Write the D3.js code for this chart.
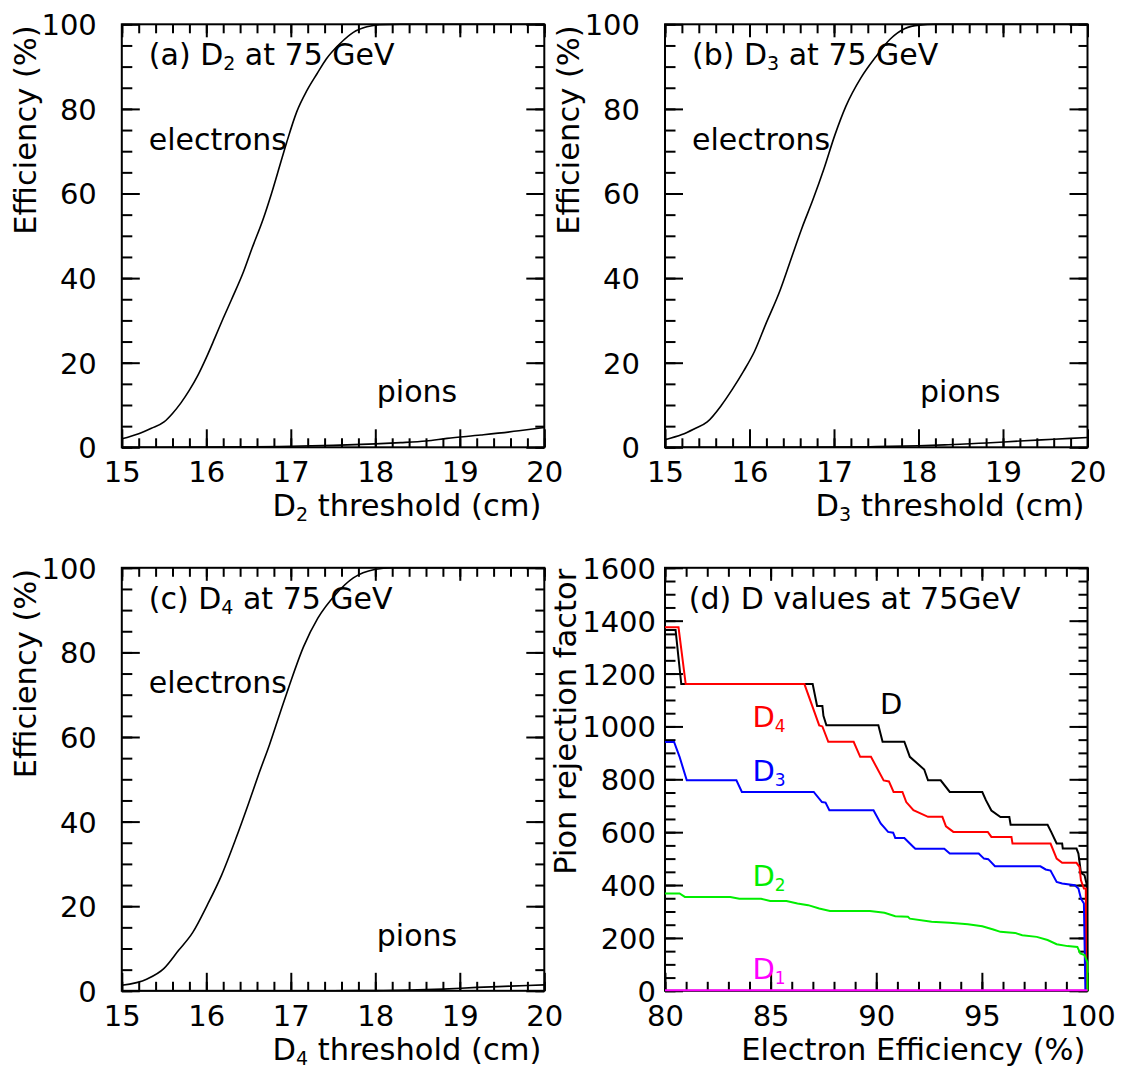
<!DOCTYPE html>
<html>
<head>
<meta charset="utf-8">
<script src="https://cdn.jsdelivr.net/npm/d3@7"></script>
<style>
  body { margin: 0; background: #fff; }
  svg { display: block; }
  text { font-family: "DejaVu Sans", sans-serif; fill: #000; }
</style>
</head>
<body>
<svg id="chart" width="1121" height="1068"></svg>
<script>
// ---- efficiency vs threshold (panels a-c): [threshold cm, efficiency %] ----
const electronsD2 = [[15,2.0],[15.2,3.2],[15.35,4.5],[15.5,6.0],[15.6,8.0],[15.7,10.5],[15.8,13.5],[15.9,17.0],
  [16.0,21.2],[16.1,25.8],[16.2,30.5],[16.3,35.0],[16.44,41.5],[16.54,47.0],[16.67,53.8],[16.77,59.9],
  [16.87,66.6],[16.95,72.0],[17.07,79.3],[17.19,84.3],[17.31,88.3],[17.42,91.8],[17.58,95.4],[17.74,98.1],
  [17.9,99.4],[18.05,99.9],[18.3,100],[20,100]];
const pionsD2 = [[15,0],[16,0.05],[16.5,0.1],[17,0.25],[17.5,0.45],[18,0.8],[18.3,1.1],[18.6,1.5],[18.85,2.1],
  [19.25,2.9],[19.7,3.9],[20,4.7]];

const electronsD3 = [[15,1.8],[15.2,3.0],[15.35,4.4],[15.5,6.0],[15.67,10.0],[15.8,13.8],[15.93,18.0],[16.06,22.7],
  [16.19,29.0],[16.36,37.0],[16.5,45.0],[16.62,51.8],[16.75,58.5],[16.88,65.8],[17.01,73.8],[17.14,80.6],
  [17.32,87.4],[17.49,92.2],[17.66,96.4],[17.84,99.0],[18.01,99.8],[18.2,100],[20,100]];
const pionsD3 = [[15,0],[17,0.05],[17.5,0.15],[18,0.35],[18.35,0.6],[18.8,1.0],[19.2,1.5],[19.6,1.9],[20,2.3]];

const electronsD4 = [[15,1.3],[15.3,2.8],[15.5,5.3],[15.67,9.5],[15.84,13.8],[16.01,20.2],[16.18,27.3],[16.35,36.0],
  [16.5,44.3],[16.62,51.2],[16.75,58.3],[16.87,65.5],[16.98,72.0],[17.15,81.3],[17.32,88.1],[17.53,93.7],
  [17.74,97.6],[17.99,99.6],[18.2,100],[20,100]];
const pionsD4 = [[15,0],[17.5,0.02],[18,0.05],[18.4,0.15],[18.8,0.4],[19.2,0.8],[19.6,1.1],[20,1.4]];

// ---- pion rejection vs electron efficiency (panel d): [efficiency %, rejection] ----
const rejectionD = [[80,1365],[80.5,1365],[80.77,1160],[86.99,1160],[87.2,1077],[87.45,1077],[87.5,1040],[87.64,1004],
  [90.1,1004],[90.3,942],[91.33,942],[91.59,885],[92.27,837],[92.45,796],[93.05,796],[93.48,752],[95.02,752],
  [95.19,721],[95.45,682],[95.88,657],[96.3,657],[96.36,628],[98.11,628],[98.28,601],[98.54,557],[98.8,557],
  [98.83,538],[99.48,538],[99.57,519],[99.69,446],[99.86,437],[99.97,400],[100,0]];
const rejectionD4 = [[80,1375],[80.64,1375],[80.98,1160],[86.6,1160],[87.3,1004],[87.45,1000],[87.73,942],[88.93,942],
  [89.24,885],[89.75,885],[90.35,796],[90.6,792],[90.82,752],[91.24,752],[91.42,714],[91.76,683],[92.45,658],
  [93.13,658],[93.3,622],[93.65,601],[95.28,601],[95.45,582],[96.4,582],[96.45,557],[98.25,557],[98.54,500],
  [98.8,484],[99.48,484],[99.62,469],[99.69,418],[99.83,387],[99.92,387],[99.93,0]];
const rejectionD3 = [[80,941],[80.43,941],[80.69,885],[81.03,796],[83.38,796],[83.64,752],[87.04,752],[87.43,714],
  [87.6,712],[87.78,683],[89.87,683],[90.21,633],[90.56,601],[90.8,598],[90.9,578],[91.33,578],[91.76,544],
  [91.85,537],[93.22,537],[93.48,519],[94.85,519],[95.1,500],[95.3,498],[95.62,471],[97.77,471],[98.02,459],
  [98.25,455],[98.54,412],[98.8,406],[99.4,399],[99.57,387],[99.69,349],[99.83,330],[99.9,0]];
const rejectionD2 = [[80,368],[80.69,368],[80.94,355],[83.09,355],[83.52,348],[84.55,348],[84.98,340],[85.75,340],
  [86.27,330],[86.78,324],[87.3,311],[87.81,302],[89.7,302],[90.39,295],[90.9,282],[91.5,280],[91.59,273],
  [92.62,261],[93.48,257],[94.34,252],[95.02,244],[95.54,232],[95.88,223],[96.57,219],[96.91,210],[97.6,204],
  [98.11,192],[98.54,176],[99.06,169],[99.52,166],[99.66,141],[99.86,135],[100,106],[100,0]];
const rejectionD1 = [[80,2],[100,2]];

// ---- axis ticks ----
const thresholdTicks = [15, 16, 17, 18, 19, 20];
const efficiencyTicks = [0, 20, 40, 60, 80, 100];
const electronEffTicks = [80, 85, 90, 95, 100];
const rejectionTicks = [0, 200, 400, 600, 800, 1000, 1200, 1400, 1600];

// ---- layout ----
const W = 422.5, H = 423;
const svg = d3.select("#chart");
svg.append("rect").attr("width", 1121).attr("height", 1068).attr("fill", "#fff");

const thresholdPanels = [
  { tag: "a", sub: "2", left: 121.8, top: 24.3, electrons: electronsD2, pions: pionsD2 },
  { tag: "b", sub: "3", left: 665,   top: 24.3, electrons: electronsD3, pions: pionsD3 },
  { tag: "c", sub: "4", left: 121.8, top: 567.8, electrons: electronsD4, pions: pionsD4 }
];

// text with subscripts: parts is a list of [text, isSubscript]
function subText(sel, parts, subSize) {
  parts.forEach(([t, isSub]) => {
    const ts = sel.append("tspan").text(t);
    if (isSub) ts.attr("font-size", subSize).attr("dy", 5);
    else if (sel.selectAll("tspan").size() > 1) ts.attr("dy", -5);
  });
}

function drawAxes(g, x, y, o) {
  const styleTicks = s => {
    s.select(".domain").remove();
    s.selectAll(".tick line").attr("stroke", "#000").attr("stroke-width", 2);
  };
  // minor ticks on all four sides, pointing inward
  g.append("g").attr("transform", `translate(0,${H})`)
    .call(d3.axisBottom(x).tickValues(o.xMinor).tickSize(-9).tickFormat("")).call(styleTicks);
  g.append("g")
    .call(d3.axisTop(x).tickValues(o.xMinor).tickSize(-9).tickFormat("")).call(styleTicks);
  g.append("g")
    .call(d3.axisLeft(y).tickValues(o.yMinor).tickSize(-10.5).tickFormat("")).call(styleTicks);
  g.append("g").attr("transform", `translate(${W},0)`)
    .call(d3.axisRight(y).tickValues(o.yMinor).tickSize(-9).tickFormat("")).call(styleTicks);
  // major ticks, labelled on bottom and left
  const bx = g.append("g").attr("transform", `translate(0,${H})`)
    .call(d3.axisBottom(x).tickValues(o.xMajor).tickSize(-18).tickPadding(14.4).tickFormat(d3.format("d")))
    .call(styleTicks);
  bx.attr("font-size", null).attr("font-family", null);
  bx.selectAll("text").attr("font-size", 29).attr("fill", "#000");
  g.append("g")
    .call(d3.axisTop(x).tickValues(o.xMajor).tickSize(-13).tickFormat("")).call(styleTicks);
  const ly = g.append("g")
    .call(d3.axisLeft(y).tickValues(o.yMajor).tickSize(-18).tickPadding(o.yPad).tickFormat(d3.format("d")))
    .call(styleTicks);
  ly.attr("font-size", null).attr("font-family", null);
  ly.selectAll("text").attr("font-size", 29).attr("fill", "#000").attr("dy", "0.36em");
  g.append("g").attr("transform", `translate(${W},0)`)
    .call(d3.axisRight(y).tickValues(o.yMajor).tickSize(-18).tickFormat("")).call(styleTicks);
  // frame
  g.append("rect").attr("width", W).attr("height", H)
    .attr("fill", "none").attr("stroke", "#000").attr("stroke-width", 2);
}

const xThr = d3.scaleLinear().domain([15, 20]).range([0, W]);
const yEff = d3.scaleLinear().domain([0, 100]).range([H, 0]);
const thrLine = d3.line().x(d => xThr(d[0])).y(d => yEff(d[1])).curve(d3.curveMonotoneX);

thresholdPanels.forEach(p => {
  const g = svg.append("g").attr("transform", `translate(${p.left},${p.top})`);
  drawAxes(g, xThr, yEff, {
    xMajor: thresholdTicks, xMinor: d3.range(15, 20.001, 0.2),
    yMajor: efficiencyTicks, yMinor: d3.range(0, 100.001, 5), yPad: 25
  });
  g.append("path").datum(p.electrons).attr("d", thrLine)
    .attr("fill", "none").attr("stroke", "#000").attr("stroke-width", 1.6);
  g.append("path").datum(p.pions).attr("d", thrLine)
    .attr("fill", "none").attr("stroke", "#000").attr("stroke-width", 1.6);

  // panel title and curve labels
  const t = g.append("text").attr("x", 27).attr("y", 41).attr("font-size", 30);
  subText(t, [[`(${p.tag}) D`, false], [p.sub, true], [" at 75 GeV", false]], 19);
  g.append("text").attr("x", 27).attr("y", 125.4).attr("font-size", 30).text("electrons");
  g.append("text").attr("x", 255).attr("y", 378).attr("font-size", 30).text("pions");

  // axis titles
  const xt = g.append("text").attr("x", W - 3).attr("y", H + 69).attr("font-size", 30.5)
    .attr("text-anchor", "end");
  subText(xt, [["D", false], [p.sub, true], [" threshold (cm)", false]], 19);
  g.append("text").attr("transform", `translate(-86,1) rotate(-90)`)
    .attr("text-anchor", "end").attr("font-size", 30.5).text("Efficiency (%)");
});

// ---- panel d: rejection factor ----
const gd = svg.append("g").attr("transform", `translate(665,567.8)`);
const xEl = d3.scaleLinear().domain([80, 100]).range([0, W]);
const yRej = d3.scaleLinear().domain([0, 1600]).range([H, 0]);
drawAxes(gd, xEl, yRej, {
  xMajor: electronEffTicks, xMinor: d3.range(80, 100.001, 1),
  yMajor: rejectionTicks, yMinor: d3.range(0, 1600.001, 50), yPad: 9
});
const rejLine = d3.line().x(d => xEl(d[0])).y(d => yRej(d[1]));
const rejSeries = [
  { data: rejectionD,  color: "#000000", name: "D",  sub: "",  lx: 214.9, ly: 146 },
  { data: rejectionD4, color: "#ff0000", name: "D",  sub: "4", lx: 87.4,  ly: 159.5 },
  { data: rejectionD3, color: "#0000ff", name: "D",  sub: "3", lx: 87.4,  ly: 212.9 },
  { data: rejectionD2, color: "#00ee00", name: "D",  sub: "2", lx: 87.4,  ly: 318 },
  { data: rejectionD1, color: "#ff00ff", name: "D",  sub: "1", lx: 87.4,  ly: 411.4 }
];
rejSeries.forEach(s => {
  gd.append("path").datum(s.data).attr("d", rejLine)
    .attr("fill", "none").attr("stroke", s.color).attr("stroke-width", 2);
});
rejSeries.forEach(s => {
  const t = gd.append("text").attr("x", s.lx).attr("y", s.ly).attr("font-size", 29)
    .style("fill", s.color);
  if (s.sub) subText(t, [[s.name, false], [s.sub, true]], 17);
  else t.text(s.name);
});
gd.append("text").attr("x", 23.7).attr("y", 41).attr("font-size", 30).text("(d) D values at 75GeV");
gd.append("text").attr("x", W - 2).attr("y", H + 69.5).attr("font-size", 30.5)
  .attr("text-anchor", "end").text("Electron Efficiency (%)");
gd.append("text").attr("transform", `translate(-89.5,1) rotate(-90)`)
  .attr("text-anchor", "end").attr("font-size", 30.5).text("Pion rejection factor");
</script>
</body>
</html>
